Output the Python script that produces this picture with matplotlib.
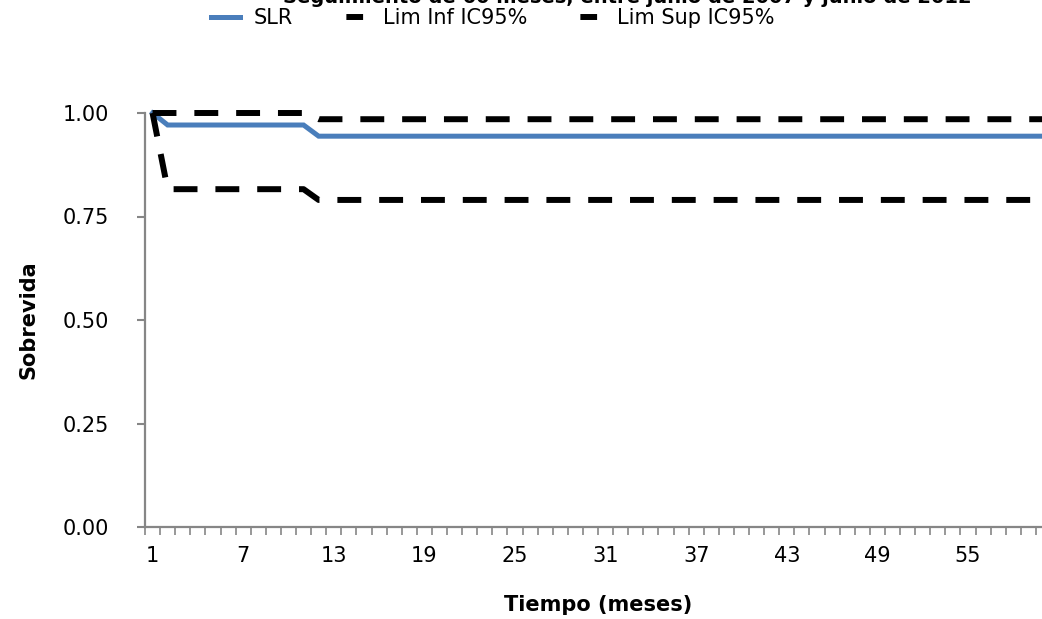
import matplotlib.pyplot as plt
from matplotlib.lines import Line2D

# datos (meses 1..60)
meses = list(range(1, 61))
slr = [1.0] + [0.971] * 10 + [0.944] * 49
lim_inf = [1.0] + [0.816] * 10 + [0.790] * 49
lim_sup = [1.0] * 11 + [0.985] * 49
etiquetas_x = [1, 7, 13, 19, 25, 31, 37, 43, 49, 55]
etiquetas_y = [0.0, 0.25, 0.5, 0.75, 1.0]

W, H = 1042, 619
gris = '#868686'
azul = '#4a7ebb'

fig = plt.figure(figsize=(W / 100, H / 100), dpi=100)
# el grafico original esta recortado a la derecha y arriba
ax = fig.add_axes([145 / W, 1 - 527 / H, (1051 - 145) / W, (527 - 113) / H])

ax.plot(meses, slr, color=azul, lw=3.6, solid_joinstyle='miter', label='SLR', clip_on=False)
ax.plot(meses, lim_inf, color='black', lw=4.3, dashes=(4, 3), label='Lim Inf IC95%', clip_on=False)
ax.plot(meses, lim_sup, color='black', lw=4.3, dashes=(4, 3), label='Lim Sup IC95%', clip_on=False)

ax.set_xlim(0.5, 60.5)
ax.set_ylim(0, 1)

ax.set_xticks(etiquetas_x)
ax.set_xticklabels([str(m) for m in etiquetas_x])
ax.set_xticks([m + 0.5 for m in range(0, 61)], minor=True)
ax.tick_params(axis='x', which='major', length=0, pad=14, labelsize=15)
ax.tick_params(axis='x', which='minor', length=6, width=1.2, color=gris, direction='out')

ax.set_yticks(etiquetas_y)
ax.set_yticklabels(['%.2f' % v for v in etiquetas_y])
ax.tick_params(axis='y', length=6, width=1.5, color=gris, pad=20, labelsize=15)

for s in ['top', 'right']:
    ax.spines[s].set_visible(False)
for s in ['left', 'bottom']:
    ax.spines[s].set_color(gris)
    ax.spines[s].set_linewidth(1.6)

fig.text(28 / W, 1 - 320 / H, 'Sobrevida', rotation=90, ha='center', va='center',
         fontsize=15, fontweight='bold')
fig.text(598 / W, 1 - 605 / H, 'Tiempo (meses)', ha='center', va='center',
         fontsize=15, fontweight='bold')

# titulo cortado en la parte superior (como en el original)
fig.text(283 / W, 1 - 3 / H, 'Seguimiento de 60 meses, entre junio de 2007 y junio de 2012',
         ha='left', va='baseline', fontsize=14, fontweight='bold')

handles = [
    Line2D([], [], color=azul, lw=3.6),
    Line2D([], [], color='black', lw=4.3, linestyle=(11.9, (2.8, 10))),
    Line2D([], [], color='black', lw=4.3, linestyle=(11.9, (2.8, 10))),
]
fig.legend(handles, ['SLR', 'Lim Inf IC95%', 'Lim Sup IC95%'], loc='center',
           bbox_to_anchor=(493 / W, 1 - 18 / H), ncol=3, frameon=False, fontsize=15,
           handlelength=1.35, handletextpad=0.67, columnspacing=2.3)

fig.savefig('out.png', dpi=100)
